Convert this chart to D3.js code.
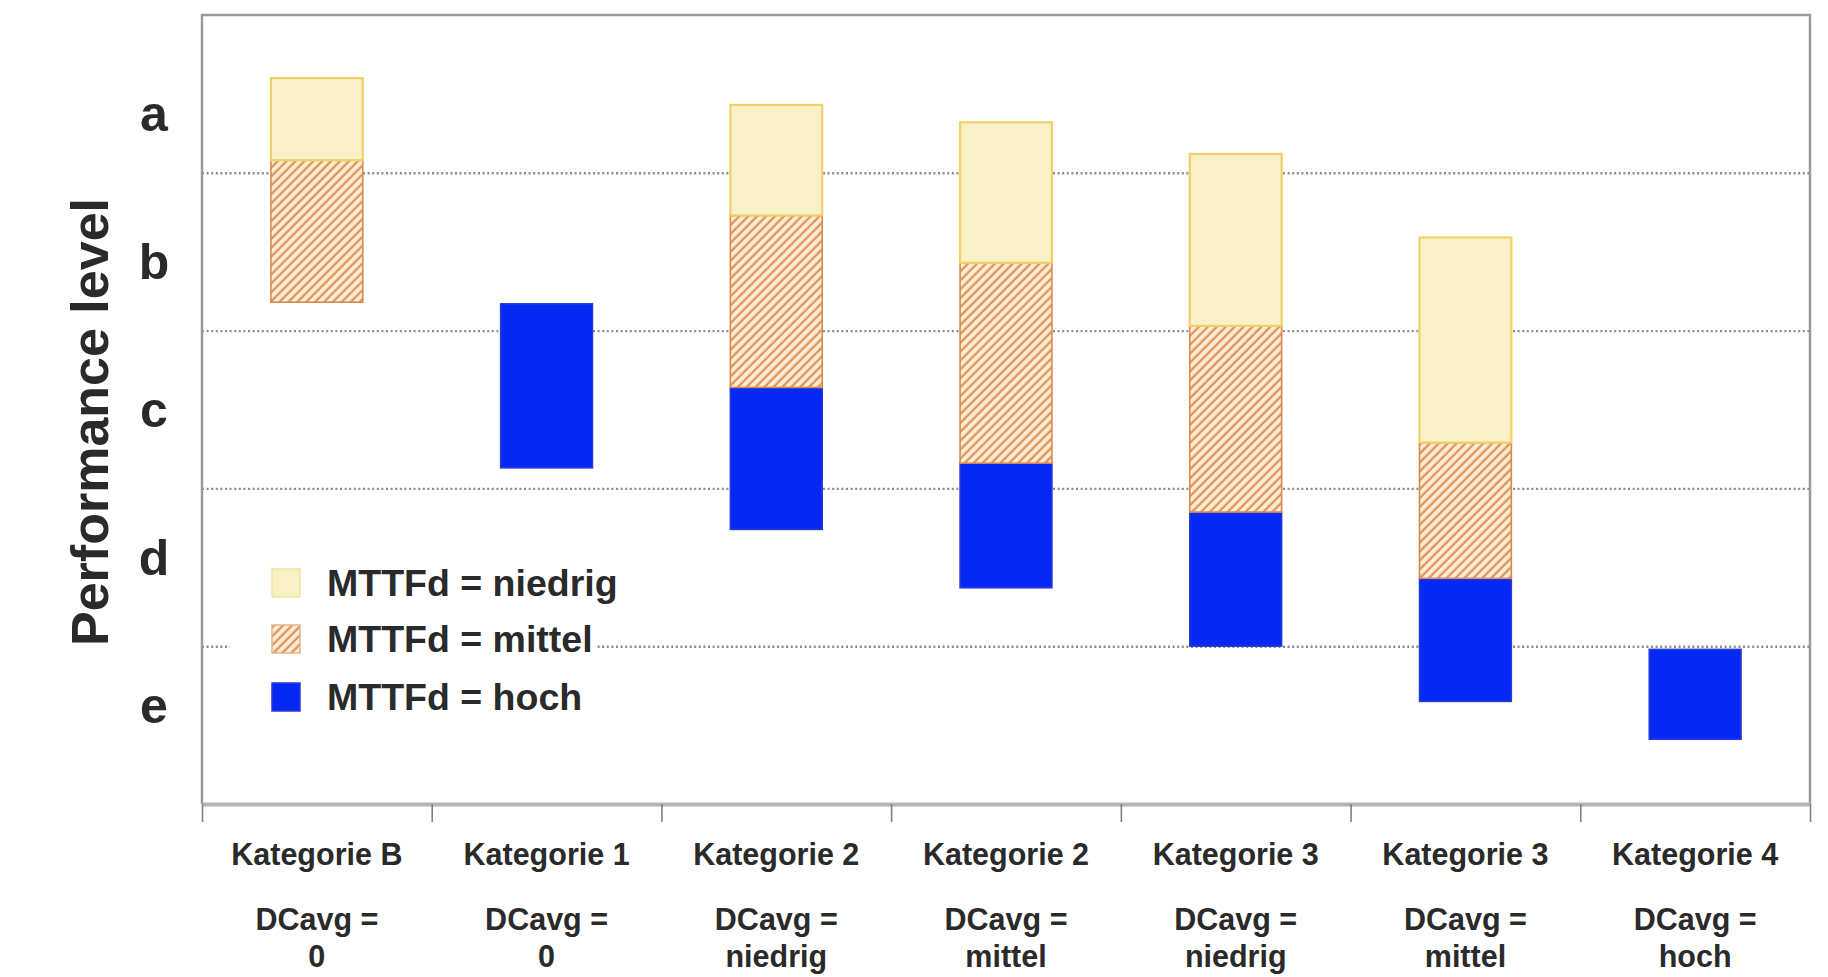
<!DOCTYPE html>
<html><head><meta charset="utf-8">
<script src="https://cdn.jsdelivr.net/npm/d3@7"></script>
<style>
html,body{margin:0;padding:0;background:#fff;}
svg{display:block;}
text{font-family:"Liberation Sans",Arial,Helvetica,sans-serif;font-weight:bold;fill:#2a2a2a;}
</style>
</head><body>
<svg id="chart" width="1828" height="977"></svg>
<script>
// ---- data ----
const categories = ["Kategorie B","Kategorie 1","Kategorie 2","Kategorie 2","Kategorie 3","Kategorie 3","Kategorie 4"];
const dcavgLabels = ["0","0","niedrig","mittel","niedrig","mittel","hoch"];
const levels = ["a","b","c","d","e"];
const gridValues = [1,2,3,4];
// [low, high] on a 0..5 performance-level scale (e=0..1, d=1..2, c=2..3, b=3..4, a=4..5)
const niedrig = [[4.08,4.60],null,[3.73,4.43],[3.43,4.32],[3.03,4.12],[2.29,3.59],null];
const mittel  = [[3.18,4.08],null,[2.64,3.73],[2.16,3.43],[1.85,3.03],[1.43,2.29],null];
const hoch    = [null,[2.13,3.17],[1.74,2.64],[1.37,2.16],[1.00,1.85],[0.65,1.43],[0.41,0.98]];
const seriesNames = ["MTTFd = niedrig","MTTFd = mittel","MTTFd = hoch"];

// ---- layout ----
const L=202, R=1810, T=15, B=804;
const svg = d3.select("#chart");
svg.append("rect").attr("width",1828).attr("height",977).attr("fill","#fff");

const defs = svg.append("defs");
const pat = defs.append("pattern").attr("id","hatch").attr("patternUnits","userSpaceOnUse")
  .attr("width",6.3).attr("height",6.3).attr("patternTransform","rotate(45)");
pat.append("rect").attr("width",6.3).attr("height",6.3).attr("fill","#fdecd6");
pat.append("line").attr("x1",1.6).attr("y1",0).attr("x2",1.6).attr("y2",6.3)
  .attr("stroke","#df9458").attr("stroke-width",2.3);

const x = d3.scaleBand().domain(d3.range(categories.length)).range([L,R]).paddingInner(0.6).paddingOuter(0.3);
const xb = d3.scaleLinear().domain([0,categories.length]).range([L,R]);
const y = d3.scaleLinear().domain([0,5]).range([B,T]);
const yl = d3.scalePoint().domain(levels).range([131,723]);

// gridlines
const grid = svg.append("g").attr("transform",`translate(${L},0)`)
  .call(d3.axisLeft(y).tickValues(gridValues).tickSize(-(R-L)).tickFormat(""));
grid.select(".domain").remove();
grid.selectAll("line").attr("stroke","#8a8a8a").attr("stroke-width",2.4).attr("stroke-dasharray","2,2.6");

// border (top/left/right)
svg.append("path").attr("d",`M${L},${B}V${T}H${R}V${B}`).attr("fill","none")
  .attr("stroke","#9a9a9a").attr("stroke-width",2.5);

// bars
function drawSeries(data, cls, fill, stroke, sw){
  svg.append("g").selectAll("rect").data(data.map((d,i)=>({d,i})).filter(o=>o.d))
    .join("rect").attr("class",cls)
    .attr("x",o=>x(o.i)).attr("width",x.bandwidth())
    .attr("y",o=>y(o.d[1])).attr("height",o=>y(o.d[0])-y(o.d[1]))
    .attr("fill",fill).attr("stroke",stroke).attr("stroke-width",sw);
}
drawSeries(hoch,"hoch","#0628f4","#2a3ad6",1.5);
drawSeries(mittel,"mittel","url(#hatch)","#d98a50",1.6);
drawSeries(niedrig,"niedrig","#f8f1c8","#f1d068",2.2);

// x axis
const xa = svg.append("g").attr("transform",`translate(0,${B})`)
  .call(d3.axisBottom(xb).tickValues(d3.range(categories.length+1)).tickSize(18).tickSizeOuter(0).tickFormat(""));
xa.select(".domain").attr("stroke","#b4b4b4").attr("stroke-width",4);
xa.selectAll(".tick line").attr("stroke","#808080").attr("stroke-width",1.6);

// category labels
const lab = svg.append("g").selectAll("g").data(categories).join("g")
  .attr("transform",(d,i)=>`translate(${x(i)+x.bandwidth()/2},0)`);
lab.append("text").attr("y",865).attr("text-anchor","middle").style("font-size","30.5px").text(d=>d);
lab.append("text").attr("y",930).attr("text-anchor","middle").style("font-size","30.5px").text("DCavg =");
lab.append("text").attr("y",967).attr("text-anchor","middle").style("font-size","30.5px").text((d,i)=>dcavgLabels[i]);

// y level labels
svg.append("g").selectAll("text").data(levels).join("text")
  .attr("x",154).attr("y",d=>yl(d)).attr("text-anchor","middle").style("font-size","50px").text(d=>d);

// y title
svg.append("text").attr("transform","translate(108,422) rotate(-90)").attr("text-anchor","middle")
  .style("font-size","52px").text("Performance level");

// legend
const legFill = ["#f8f1c8","url(#hatch)","#0628f4"];
const legStroke = ["#f3e2a0","#e6b488","#2a3ad6"];
const legY = [583,639,697];
const leg = svg.append("g").selectAll("g").data(seriesNames).join("g")
  .attr("transform",(d,i)=>`translate(0,${legY[i]})`);
const bg = leg.append("rect").attr("x",230).attr("y",-24).attr("height",48).attr("fill","#fff");
leg.append("rect").attr("x",272).attr("y",-14).attr("width",28).attr("height",28)
  .attr("fill",(d,i)=>legFill[i]).attr("stroke",(d,i)=>legStroke[i]).attr("stroke-width",1.5);
const lt = leg.append("text").attr("x",327).attr("y",13).style("font-size","37.5px").text(d=>d);
lt.each(function(d,i){ const w=this.getComputedTextLength(); d3.select(bg.nodes()[i]).attr("width",327+w+3-230); });
</script>
</body></html>
